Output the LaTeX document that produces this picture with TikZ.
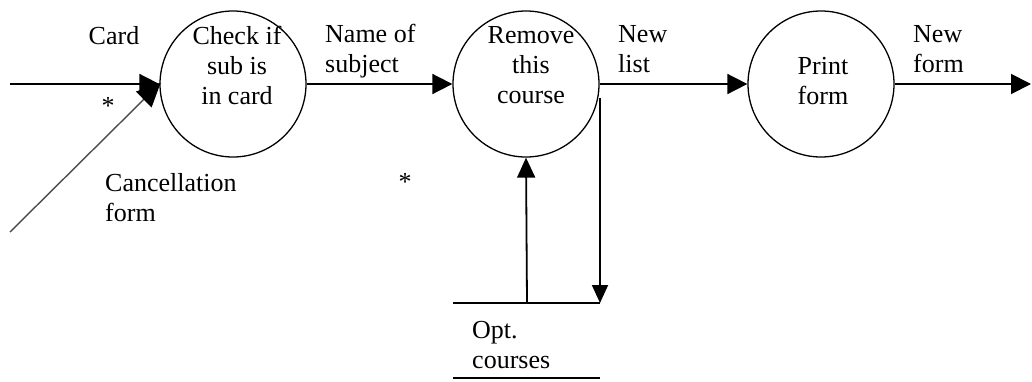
\documentclass[tikz,border=0pt]{standalone}
\usepackage{fontspec}
\setmainfont{Liberation Serif}
\usetikzlibrary{arrows.meta}
\begin{document}
\begin{tikzpicture}[x=1pt,y=-1pt,
  proc/.style={draw, line width=1.3pt, circle, minimum size=146pt, inner sep=0pt},
  flow/.style={line width=1.8pt, -{Triangle[length=20pt,width=20pt]}},
  plain/.style={line width=1.8pt},
  txt/.style={font={\fontsize{26}{30}\selectfont}, inner sep=0pt, text=black},
  ltxt/.style={txt, align=left, anchor=west},
  ctxt/.style={txt, align=center}]
\useasboundingbox (0,0) rectangle (1032,381);
% processes
\node[proc] (c1) at (233,84) {};
\node[proc] (c2) at (526,84) {};
\node[proc] (c3) at (821,84) {};
% texts in circles
\node[ctxt] (t1) at (237,65) {Check if\\sub is\\in card};
\node[ctxt] (t2) at (531,65) {Remove\\this\\course};
\node[ctxt] (t3) at (823,81) {Print\\form};
% free ends
\coordinate (inL) at (10,84);
\coordinate (inD) at (10,232);
\coordinate (outR) at (1031,84);
\coordinate (dTop) at (600,98);
\coordinate (sL) at (453,303);
\coordinate (sR) at (600,303);
\coordinate (sM) at (527,303);
\coordinate (bL) at (453,378);
\coordinate (bR) at (600,378);
% connectors
\draw[flow] (inL) -- (c1.west);
\draw[line width=1.4pt, black!70, -{Triangle[length=24pt,width=22pt,color=black]}, shorten >=-2pt] (inD) -- (c1.west);
\draw[flow] (c1.east) -- (c2.west);
\draw[flow] (c2.east) -- (c3.west);
\draw[flow] (c3.east) -- (outR);
\draw[plain, -{Triangle[length=18pt,width=16pt]}] (dTop) -- (sR);
\draw[plain, -{Triangle[length=20pt,width=18pt]}] (sM) -- (c2.south);
% data store
\draw[plain] (sL) -- (sR);
\draw[plain] (bL) -- (bR);
% labels
\node[ctxt] (lCard) at (114,36) {Card};
\node[ctxt] (ast1) at (108,106) {*};
\node[ltxt] (lCanc) at (105,198) {Cancellation\\form};
\node[ltxt] (lName) at (325,51) {Name of\\subject};
\node[ctxt] (ast2) at (405,182) {*};
\node[ltxt] (lNewL) at (618,49) {New\\list};
\node[ltxt] (lNewF) at (913,49) {New\\form};
\node[ltxt] (lOpt) at (472,345) {Opt.\\courses};
\end{tikzpicture}
\end{document}
